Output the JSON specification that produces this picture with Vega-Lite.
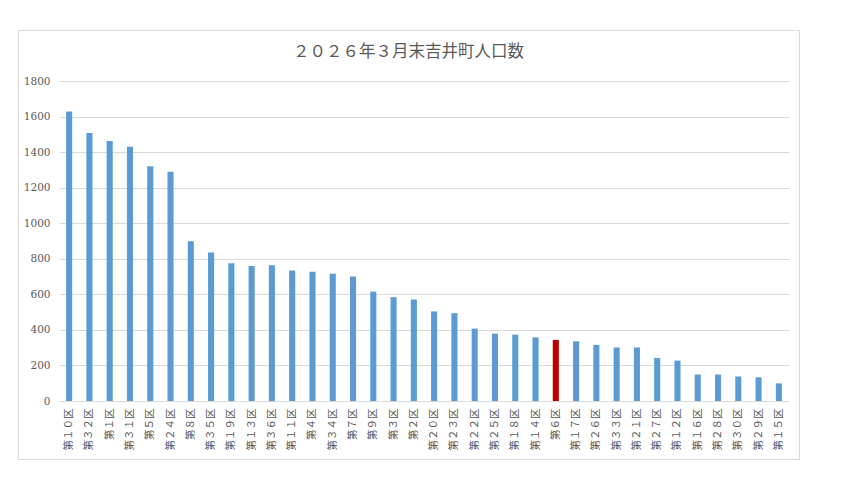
{
  "$schema": "https://vega.github.io/schema/vega-lite/v6.json",
  "autosize": {"type": "none"},
  "width": 781,
  "height": 429,
  "padding": {"left": 18, "top": 30, "right": 45, "bottom": 39},
  "background": "white",
  "title": {
    "text": "２０２６年３月末吉井町人口数",
    "font": "Noto Sans CJK JP",
    "fontSize": 16.5,
    "fontWeight": "normal",
    "color": "#595959",
    "anchor": "middle",
    "baseline": "bottom",
    "offset": -46
  },
  "data": {
    "values": [
      {"district": "第１０区", "population": 1628, "highlight": "no"},
      {"district": "第３２区", "population": 1508, "highlight": "no"},
      {"district": "第１区", "population": 1463, "highlight": "no"},
      {"district": "第３１区", "population": 1430, "highlight": "no"},
      {"district": "第５区", "population": 1321, "highlight": "no"},
      {"district": "第２４区", "population": 1290, "highlight": "no"},
      {"district": "第８区", "population": 899, "highlight": "no"},
      {"district": "第３５区", "population": 835, "highlight": "no"},
      {"district": "第１９区", "population": 775, "highlight": "no"},
      {"district": "第１３区", "population": 760, "highlight": "no"},
      {"district": "第３６区", "population": 764, "highlight": "no"},
      {"district": "第１１区", "population": 734, "highlight": "no"},
      {"district": "第４区", "population": 727, "highlight": "no"},
      {"district": "第３４区", "population": 716, "highlight": "no"},
      {"district": "第７区", "population": 700, "highlight": "no"},
      {"district": "第９区", "population": 615, "highlight": "no"},
      {"district": "第３区", "population": 584, "highlight": "no"},
      {"district": "第２区", "population": 571, "highlight": "no"},
      {"district": "第２０区", "population": 504, "highlight": "no"},
      {"district": "第２３区", "population": 494, "highlight": "no"},
      {"district": "第２２区", "population": 407, "highlight": "no"},
      {"district": "第２５区", "population": 379, "highlight": "no"},
      {"district": "第１８区", "population": 373, "highlight": "no"},
      {"district": "第１４区", "population": 358, "highlight": "no"},
      {"district": "第６区", "population": 343, "highlight": "yes"},
      {"district": "第１７区", "population": 336, "highlight": "no"},
      {"district": "第２６区", "population": 316, "highlight": "no"},
      {"district": "第３３区", "population": 301, "highlight": "no"},
      {"district": "第２１区", "population": 301, "highlight": "no"},
      {"district": "第２７区", "population": 242, "highlight": "no"},
      {"district": "第１２区", "population": 227, "highlight": "no"},
      {"district": "第１６区", "population": 149, "highlight": "no"},
      {"district": "第２８区", "population": 149, "highlight": "no"},
      {"district": "第３０区", "population": 138, "highlight": "no"},
      {"district": "第２９区", "population": 133, "highlight": "no"},
      {"district": "第１５区", "population": 99, "highlight": "no"}
    ]
  },
  "mark": {"type": "bar"},
  "encoding": {
    "x": {
      "field": "district",
      "type": "nominal",
      "sort": null,
      "scale": {"range": [41, 771], "paddingInner": 0.7, "paddingOuter": 0.35},
      "axis": {
        "title": null,
        "offset": -58,
        "labelAngle": 270,
        "labelAlign": "right",
        "labelBaseline": "middle",
        "labelPadding": 7,
        "labelFont": "Noto Sans CJK JP",
        "labelFontSize": 10.5,
        "labelColor": "#595959",
        "ticks": false,
        "domainColor": "#D9D9D9",
        "grid": false
      }
    },
    "y": {
      "field": "population",
      "type": "quantitative",
      "scale": {"domain": [0, 1800], "range": [371, 51], "nice": false},
      "axis": {
        "title": null,
        "values": [0, 200, 400, 600, 800, 1000, 1200, 1400, 1600, 1800],
        "format": "d",
        "offset": -35,
        "domain": false,
        "ticks": false,
        "labelPadding": 3,
        "labelFont": "DejaVu Serif",
        "labelFontSize": 10.5,
        "labelColor": "#595959",
        "gridColor": "#D9D9D9",
        "gridWidth": 1
      }
    },
    "color": {
      "field": "highlight",
      "type": "nominal",
      "scale": {"domain": ["no", "yes"], "range": ["#5B9BD5", "#C00000"]},
      "legend": null
    }
  },
  "config": {
    "view": {"stroke": "#D9D9D9", "strokeWidth": 1}
  }
}
